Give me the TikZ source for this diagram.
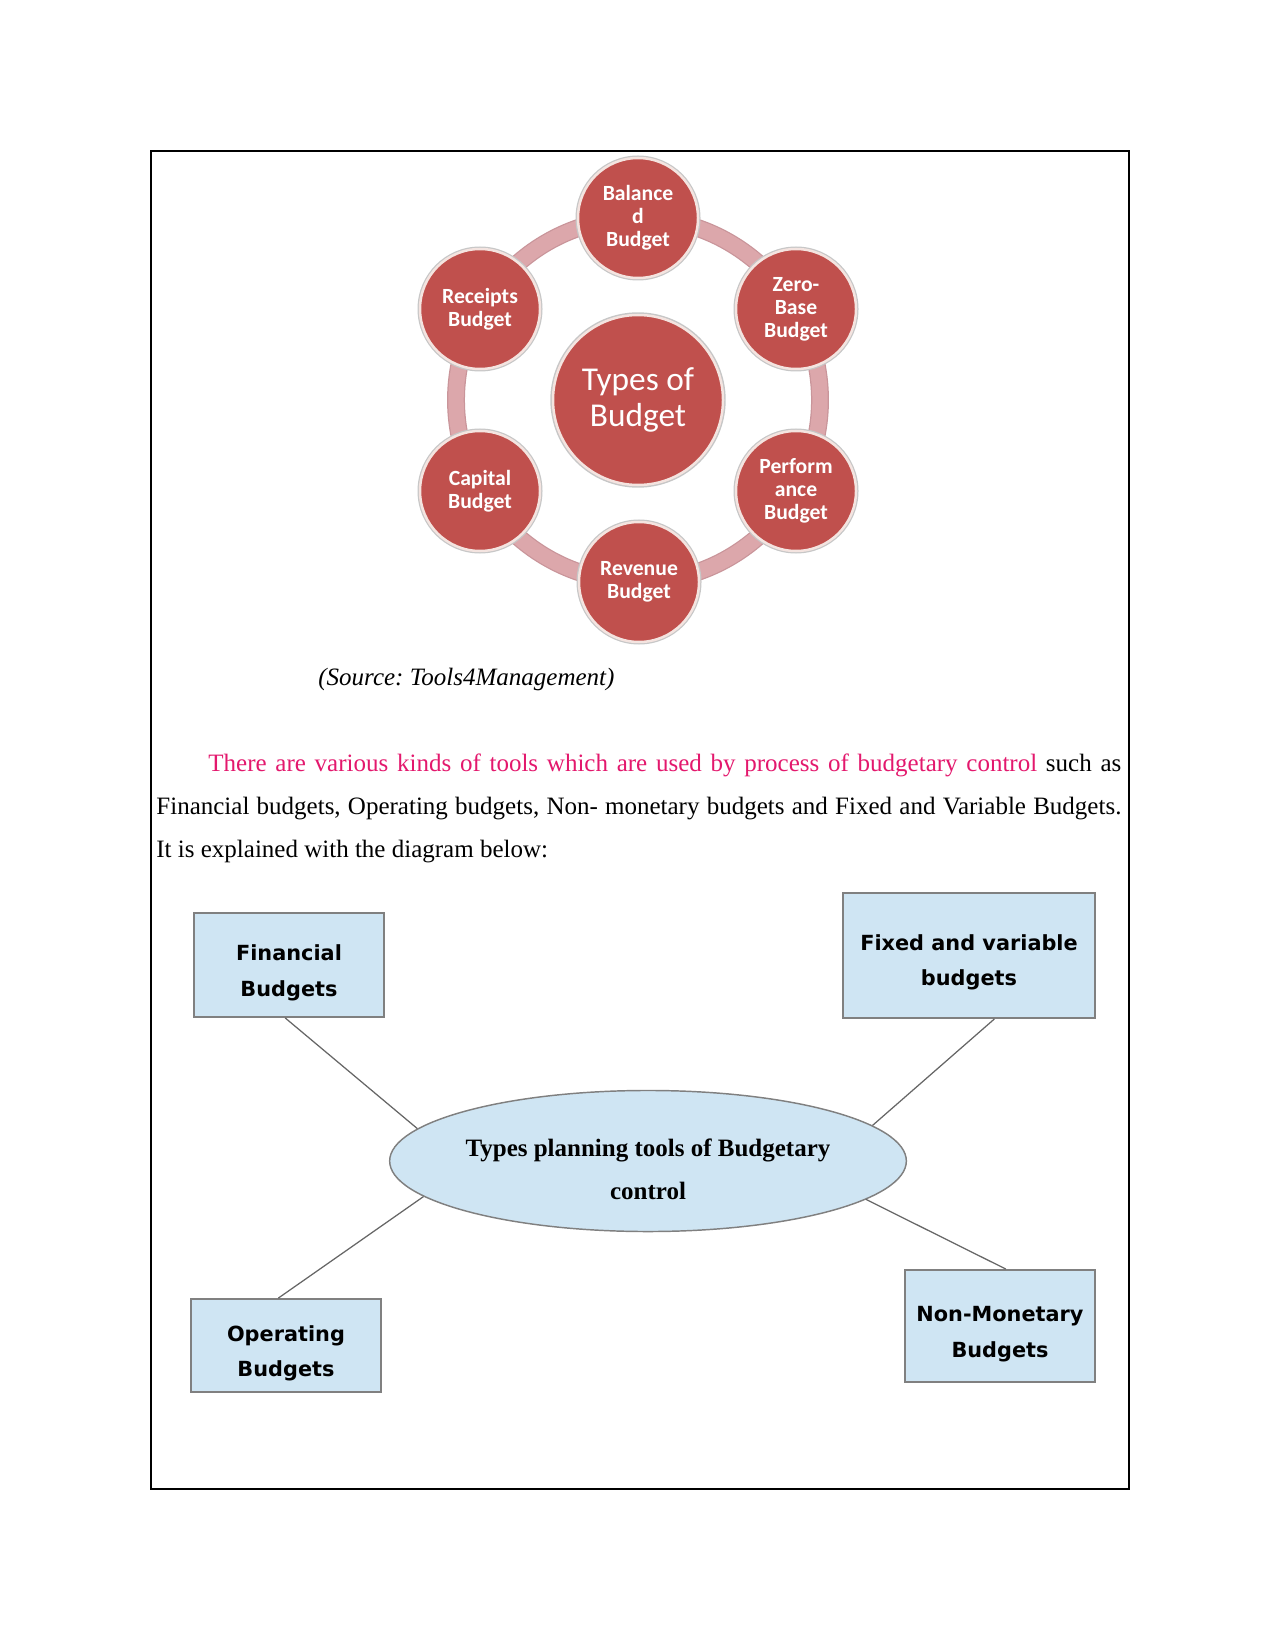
\documentclass[tikz,border=0pt]{standalone}
\usepackage{fontspec}
\setmainfont{Liberation Serif}
\newfontfamily\calibrifont{Carlito}
\newfontfamily\dejavufont{DejaVu Sans}
\usetikzlibrary{shapes.geometric,calc}
\frenchspacing
\definecolor{budred}{HTML}{C0504D}
\definecolor{budedge}{HTML}{F4E4E0}
\definecolor{ringpink}{HTML}{DCA7AB}
\definecolor{ringedge}{HTML}{C9959A}
\definecolor{boxblue}{HTML}{CFE5F3}
\definecolor{boxedge}{HTML}{808080}
\definecolor{pinktext}{HTML}{E3186D}
\tikzset{
  bigcirc/.style={circle, fill=budred, draw=budedge, line width=1.2pt,
    preaction={draw=black!22, line width=2.6pt},
    minimum size=81.6pt, inner sep=0pt, text=white, align=center,
    font=\calibrifont\fontsize{16}{17.6}\selectfont},
  budcirc/.style={circle, fill=budred, draw=budedge, line width=1.2pt,
    preaction={draw=black!22, line width=2.4pt},
    minimum size=57.6pt, inner sep=0pt, text=white, align=center,
    font=\calibrifont\bfseries\fontsize{10.4}{11}\selectfont},
  toolbox/.style={rectangle, fill=boxblue, draw=boxedge, line width=0.9pt,
    inner sep=0pt},
  toolell/.style={ellipse, fill=boxblue, draw=boxedge, line width=0.7pt,
    inner sep=0pt, minimum width=248pt, minimum height=67.7pt},
  boxtext/.style={inner sep=0pt, align=center,
    font=\dejavufont\bfseries\fontsize{10}{17}\selectfont},
  elltext/.style={inner sep=0pt, align=center,
    font=\bfseries\fontsize{12}{20.7}\selectfont},
  link/.style={draw=black!60, line width=0.6pt},
  bodytext/.style={anchor=base west, inner sep=0pt, font=\fontsize{12}{14}\selectfont}
}
\begin{document}
\begin{tikzpicture}[x=0.48pt, y=-0.48pt]
\useasboundingbox (0,0) rectangle (1275,1650);
\draw[black, line width=0.6pt] (151,151) rectangle (1129,1489);

% ring
\coordinate (ringc) at (638,400);
\draw[ringedge, line width=8.6pt] (ringc) circle[radius=182];
\draw[ringpink, line width=7.4pt] (ringc) circle[radius=182];

% circles
\node[bigcirc] (types) at (638,400) {Types of\\Budget};
\node[budcirc] (bal) at (638,218) {Balance\\d\\Budget};
\node[budcirc] (zero) at (796,309) {Zero-\\Base\\Budget};
\node[budcirc] (perf) at (796,491) {Perform\\ance\\Budget};
\node[budcirc] (rev) at (639,582) {Revenue\\Budget};
\node[budcirc] (cap) at (480,491) {Capital\\Budget};
\node[budcirc] (rec) at (480,309) {Receipts\\Budget};

% source
\node[bodytext, font=\itshape\fontsize{12}{14}\selectfont] (src) at (318,685) {(Source: Tools4Management)};

% paragraph
\node[bodytext] (l1) at (208,771) {\makebox[438.2pt][s]{\textcolor{pinktext}{There are various kinds of tools which are used by process of budgetary control} such as}};
\node[bodytext] (l2) at (156,814) {\makebox[463.2pt][s]{Financial budgets, Operating budgets, Non- monetary budgets and Fixed and Variable Budgets.}};
\node[bodytext] (l3) at (156,857) {It is explained with the diagram below:};

% lower diagram
\node[toolbox, minimum width=91.2pt, minimum height=49.9pt] (fin) at (289,965) {};
\node[toolbox, minimum width=121pt, minimum height=60pt] (fix) at (969,955.5) {};
\node[toolbox, minimum width=91.2pt, minimum height=44.6pt] (ope) at (286,1345.5) {};
\node[toolbox, minimum width=91.2pt, minimum height=53.8pt] (non) at (1000,1326) {};
\node[toolell] (core) at (648,1161) {};

\node[boxtext] (fintext) at ($(fin.center)+(0,8)$) {Financial\\Budgets};
\node[boxtext] (fixtext) at ($(fix.center)+(0,7)$) {Fixed and variable\\budgets};
\node[boxtext] (opetext) at ($(ope.center)+(0,8)$) {Operating\\Budgets};
\node[boxtext] (nontext) at ($(non.center)+(0,8)$) {Non-Monetary\\Budgets};
\node[elltext] (coretext) at ($(core.center)+(0,8)$) {Types planning tools of Budgetary\\control};

\coordinate (finb) at ($(fin.south west)!0.48!(fin.south east)$);
\coordinate (fixb) at ($(fix.south west)!0.60!(fix.south east)$);
\coordinate (opet) at ($(ope.north west)!0.46!(ope.north east)$);
\coordinate (nont) at ($(non.north west)!0.53!(non.north east)$);

\draw[link] (finb) -- (core.172.5);
\draw[link] (fixb) -- (core.9);
\draw[link] (opet) -- (core.189.5);
\draw[link] (nont) -- (core.350.5);
\end{tikzpicture}
\end{document}
